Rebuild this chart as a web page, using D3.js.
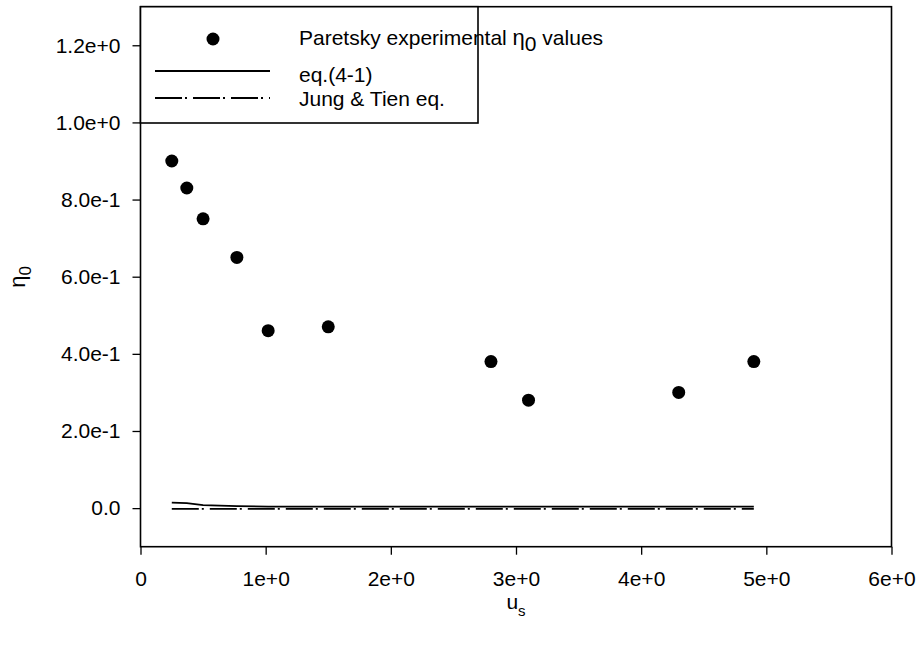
<!DOCTYPE html>
<html>
<head>
<meta charset="utf-8">
<script src="https://cdn.jsdelivr.net/npm/d3@7"></script>
<style>
  html, body { margin: 0; padding: 0; background: #fff; }
  svg { display: block; font-family: Arial, "Liberation Sans", sans-serif; }
</style>
</head>
<body>
<svg id="chart" width="920" height="645"></svg>
<script>
// Superficial velocity u_s and single-collector efficiency η0
const usValues   = [0.25, 0.37, 0.50, 0.77, 1.02, 1.50, 2.80, 3.10, 4.30, 4.90];
const paretsky   = [0.90, 0.83, 0.75, 0.65, 0.46, 0.47, 0.38, 0.28, 0.30, 0.38];
const eq41       = [0.0145, 0.013, 0.008, 0.005, 0.004, 0.004, 0.004, 0.004, 0.004, 0.004];
const jungTien   = [-0.002, -0.002, -0.002, -0.002, -0.002, -0.002, -0.002, -0.002, -0.002, -0.002];

const xTickValues = [0, 1, 2, 3, 4, 5, 6];
const xTickLabels = ["0", "1e+0", "2e+0", "3e+0", "4e+0", "5e+0", "6e+0"];
const yTickValues = [0, 0.2, 0.4, 0.6, 0.8, 1.0, 1.2];
const yTickLabels = ["0.0", "2.0e-1", "4.0e-1", "6.0e-1", "8.0e-1", "1.0e+0", "1.2e+0"];

const legendLabels = ["Paretsky experimental ", "eq.(4-1)", "Jung & Tien eq."];

const svg = d3.select("#chart");
const plotLeft = 140.5, plotRight = 891.5, plotTop = 6.7, plotBottom = 546.7;

const x = d3.scaleLinear().domain([0, 6]).range([plotLeft, plotRight]);
const y = d3.scaleLinear().domain([-0.1, 1.3]).range([plotBottom, plotTop]);

const fontSize = 21;

// axes
const xAxis = d3.axisBottom(x)
  .tickValues(xTickValues)
  .tickFormat((d, i) => xTickLabels[i])
  .tickSize(8).tickSizeOuter(0).tickPadding(16);
const yAxis = d3.axisLeft(y)
  .tickValues(yTickValues)
  .tickFormat((d, i) => yTickLabels[i])
  .tickSize(8).tickSizeOuter(0).tickPadding(12);

const gx = svg.append("g").attr("transform", `translate(0,${plotBottom})`).call(xAxis);
const gy = svg.append("g").attr("transform", `translate(${plotLeft},0)`).call(yAxis);
[gx, gy].forEach(g => {
  g.select(".domain").remove();
  g.selectAll("line").attr("stroke", "#000").attr("stroke-width", 1.3);
  g.selectAll("text").attr("fill", "#000").style("font-size", fontSize + "px")
    .style("font-family", "Arial, 'Liberation Sans', sans-serif");
});

// frame
svg.append("rect")
  .attr("x", plotLeft).attr("y", plotTop)
  .attr("width", plotRight - plotLeft).attr("height", plotBottom - plotTop)
  .attr("fill", "none").attr("stroke", "#000").attr("stroke-width", 1.6);

// model curves
const line = (vals) => d3.line().x((d, i) => x(usValues[i])).y(d => y(d))(vals);

svg.append("path")
  .attr("d", line(eq41))
  .attr("fill", "none").attr("stroke", "#000").attr("stroke-width", 1.8);

svg.append("path")
  .attr("d", line(jungTien))
  .attr("fill", "none").attr("stroke", "#000").attr("stroke-width", 1.8)
  .attr("stroke-dasharray", "27,3,2,6");

// experimental points
svg.append("g").selectAll("circle")
  .data(paretsky)
  .join("circle")
  .attr("cx", (d, i) => x(usValues[i]))
  .attr("cy", d => y(d))
  .attr("r", 6.5)
  .attr("fill", "#000");

// legend
const lg = svg.append("g");
lg.append("rect")
  .attr("x", plotLeft).attr("y", plotTop)
  .attr("width", 478 - plotLeft).attr("height", 123 - plotTop)
  .attr("fill", "#fff").attr("stroke", "#000").attr("stroke-width", 1.6);

lg.append("circle").attr("cx", 213).attr("cy", 39).attr("r", 6.5).attr("fill", "#000");
lg.append("line").attr("x1", 155).attr("x2", 270).attr("y1", 71).attr("y2", 71)
  .attr("stroke", "#000").attr("stroke-width", 1.8);
lg.append("line").attr("x1", 155).attr("x2", 270).attr("y1", 98).attr("y2", 98)
  .attr("stroke", "#000").attr("stroke-width", 1.8).attr("stroke-dasharray", "27,3,2,6");

const t1 = lg.append("text").attr("x", 299).attr("y", 45).style("font-size", fontSize + "px");
t1.append("tspan").text(legendLabels[0]);
t1.append("tspan").text("η").style("font-size", "22px");
t1.append("tspan").text("0").attr("dy", 6).style("font-size", "21px");
t1.append("tspan").text(" values").attr("dy", -6);

lg.append("text").attr("x", 299).attr("y", 82).style("font-size", fontSize + "px").text(legendLabels[1]);
lg.append("text").attr("x", 299).attr("y", 106).style("font-size", fontSize + "px").text(legendLabels[2]);

// axis titles
const yt = svg.append("text")
  .attr("transform", "translate(25,277) rotate(-90)")
  .attr("text-anchor", "middle")
  .style("font-size", "22px");
yt.append("tspan").text("η");
yt.append("tspan").text("0").attr("dy", 6).style("font-size", "17px");

const xt = svg.append("text")
  .attr("x", 516).attr("y", 609)
  .attr("text-anchor", "middle")
  .style("font-size", "21px");
xt.append("tspan").text("u");
xt.append("tspan").text("s").attr("dy", 7).style("font-size", "15px");
</script>
</body>
</html>
